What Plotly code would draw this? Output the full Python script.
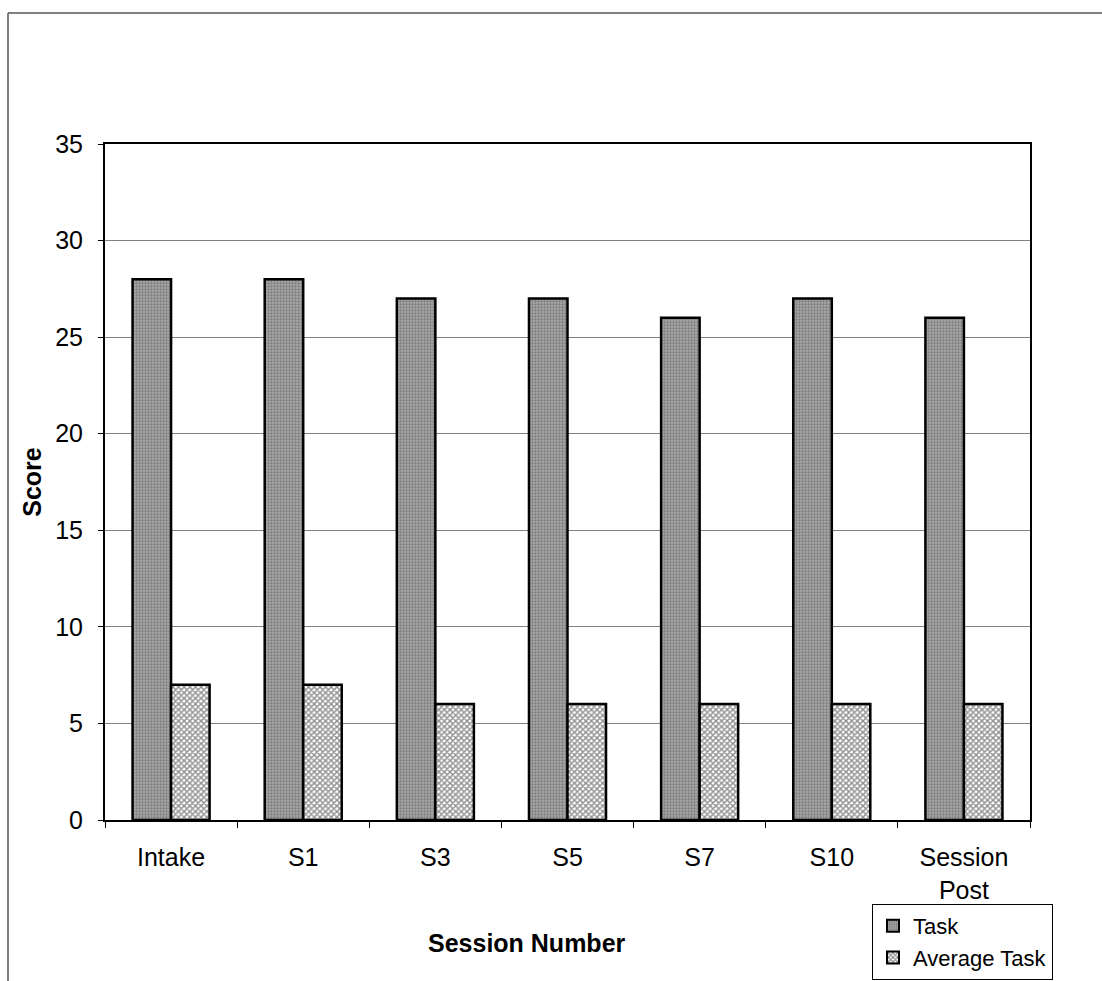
import plotly.graph_objects as go

categories = ["Intake", "S1", "S3", "S5", "S7", "S10", "Session<br>Post"]
task = [28, 28, 27, 27, 26, 27, 26]
avg_task = [7, 7, 6, 6, 6, 6, 6]
yticks = [0, 5, 10, 15, 20, 25, 30, 35]

L, R, T, B = 105, 1030, 144, 820
W, H = 1102, 981

def px(x):
    return (x - L) / (R - L)

def py(y):
    return (B - y) / (B - T)

FS = 25

fig = go.Figure()
fig.add_trace(go.Bar(
    x=categories, y=task, name="Task",
    marker=dict(color="#949494", line=dict(color="black", width=2.5),
                pattern=dict(shape=".", fgcolor="#505050", bgcolor="#a8a8a8", size=3, solidity=0.45)),
))
fig.add_trace(go.Bar(
    x=categories, y=avg_task, name="Average Task",
    marker=dict(color="white", line=dict(color="black", width=2.5),
                pattern=dict(shape="x", fgcolor="#202020", bgcolor="white", size=4, solidity=0.6)),
))

fig.update_layout(
    width=W, height=H,
    margin=dict(l=L, r=W - R, t=T, b=H - B, autoexpand=False),
    paper_bgcolor="white", plot_bgcolor="white",
    barmode="group", bargap=0.417, bargroupgap=0,
    font=dict(family="Liberation Sans, Arial, sans-serif", size=FS, color="black"),
    showlegend=True,
    legend=dict(x=px(872), y=py(904), xanchor="left", yanchor="top",
                bordercolor="black", borderwidth=1, bgcolor="white",
                font=dict(size=22), traceorder="normal", tracegroupgap=0,
                itemwidth=30, itemsizing="constant"),
    xaxis=dict(showline=True, linecolor="black", linewidth=2, mirror=True,
               ticks="outside", ticklen=6, tickcolor="black",
               tickson="boundaries", showgrid=False,
               ticklabelstandoff=14, automargin=False,
               tickfont=dict(size=FS)),
    yaxis=dict(range=[0, 35], tickvals=yticks, showline=True, linecolor="black",
               linewidth=2, mirror=True, ticks="outside", ticklen=5, tickcolor="black",
               showgrid=True, gridcolor="#808080", gridwidth=1,
               ticklabelstandoff=10, automargin=False,
               tickfont=dict(size=FS), zeroline=False,
               title=dict(text="<b>Score</b>", font=dict(size=FS), standoff=6)),
    annotations=[
        dict(text="<b>Session Number</b>", x=px(527), y=py(943), xref="paper", yref="paper",
             showarrow=False, font=dict(size=FS), xanchor="center", yanchor="middle"),
    ],
    shapes=[
        dict(type="line", xref="paper", yref="paper", x0=px(8), x1=px(1102), y0=py(13), y1=py(13),
             line=dict(color="#555555", width=1.5)),
        dict(type="line", xref="paper", yref="paper", x0=px(8), x1=px(8), y0=py(13), y1=py(981),
             line=dict(color="#555555", width=1.5)),
    ],
)

fig.write_html("out.html")
